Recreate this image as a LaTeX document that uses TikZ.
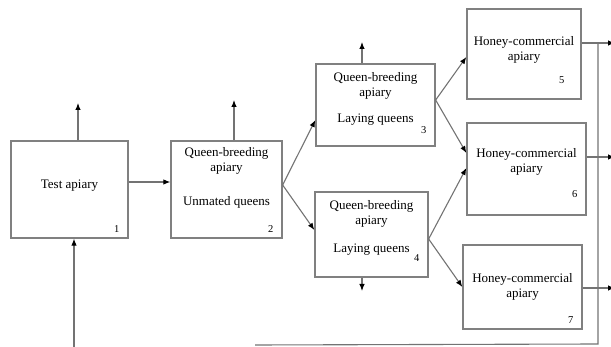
\documentclass[tikz,border=0pt]{standalone}
\usepackage{fontspec}
\setmainfont{Liberation Serif}
\usetikzlibrary{arrows.meta}

\begin{document}
\begin{tikzpicture}[
  x=1pt, y=-1pt, >={Latex[length=7pt,width=5.5pt,color=black]},
  box/.style={draw=black!50,line width=1.3pt,fill=white},
  txt/.style={font=\fontsize{13}{15}\selectfont,align=center,inner sep=0pt},
  num/.style={font=\fontsize{10.5}{12}\selectfont,anchor=south east,inner sep=0pt,
              xshift=-9pt,yshift=6pt},
  link/.style={draw=black!55,line width=1.1pt}]
  \useasboundingbox (0,0) rectangle (611,347);
  % --- apiaries ---
  \node[box,minimum width=117pt,minimum height=97pt,
        label={[txt,yshift=4pt]center:Test apiary},
        label={[num]south east:1}] (b1) at (69.5,189.5) {};
  \node[box,minimum width=111pt,minimum height=97pt,
        label={[txt,yshift=12pt]center:{Queen-breeding\\apiary\\[19pt]Unmated queens}},
        label={[num]south east:2}] (b2) at (226.5,189.5) {};
  \node[box,minimum width=119pt,minimum height=82pt,
        label={[txt,yshift=6pt]center:{Queen-breeding\\apiary\\[11pt]Laying queens}},
        label={[num,yshift=7pt]south east:3}] (b3) at (375.5,105) {};
  \node[box,minimum width=113pt,minimum height=85pt,
        label={[txt,yshift=7pt]center:{Queen-breeding\\apiary\\[13pt]Laying queens}},
        label={[num,yshift=10pt]south east:4}] (b4) at (371.5,234.5) {};
  \node[box,minimum width=114pt,minimum height=90pt,
        label={[txt,yshift=4pt]center:{Honey-commercial\\apiary}},
        label={[num,xshift=-8pt,yshift=10pt]south east:5}] (b5) at (524,54) {};
  \node[box,minimum width=119pt,minimum height=92pt,
        label={[txt,yshift=7pt]center:{Honey-commercial\\apiary}},
        label={[num,yshift=12pt]south east:6}] (b6) at (526.5,169) {};
  \node[box,minimum width=119pt,minimum height=84pt,
        label={[txt]center:{Honey-commercial\\apiary}},
        label={[num]south east:7}] (b7) at (522.5,287) {};
  % --- free ends ---
  \coordinate (o1) at (78,103);
  \coordinate (o2) at (234,100);
  \coordinate (o3) at (362,42);
  \coordinate (o4) at (362,291);
  \coordinate (in1) at (74,349);
  \coordinate (e5) at (615,43);
  \coordinate (e6) at (615,157);
  \coordinate (e7) at (615,288);
  \coordinate (rt) at (598,43);
  \coordinate (rb) at (598,344);
  \coordinate (lb) at (255,345);
  % --- flows between apiaries ---
  \draw[link,->] ([yshift=7.5pt]b1.east) -- ([yshift=7.5pt]b2.west);
  \draw[link,->] ([yshift=4.5pt]b2.east) -- ([yshift=-15pt]b3.west);
  \draw[link,->] ([yshift=4.5pt]b2.east) -- ([yshift=4.5pt]b4.west);
  \draw[link,->] ([yshift=5pt]b3.east) -- ([yshift=-3pt]b5.west);
  \draw[link,->] ([yshift=5pt]b3.east) -- ([yshift=16pt]b6.west);
  \draw[link,->] ([yshift=-4.5pt]b4.east) -- ([yshift=1pt]b6.west);
  \draw[link,->] ([yshift=-4.5pt]b4.east) -- (b7.west);
  % --- outputs and return line ---
  \draw[link,->] (b1.north -| o1) -- (o1);
  \draw[link,->] (b2.north -| o2) -- (o2);
  \draw[link,->] (b3.north -| o3) -- (o3);
  \draw[link,->] (b4.south -| o4) -- (o4);
  \draw[link,->] (b5.east |- e5) -- (e5);
  \draw[link,->] (b6.east |- e6) -- (e6);
  \draw[link,->] (b7.east |- e7) -- (e7);
  \draw[link] (rt) -- (rb) -- (lb);
  \draw[link,->] (in1) -- (in1 |- b1.south);
\end{tikzpicture}
\end{document}
